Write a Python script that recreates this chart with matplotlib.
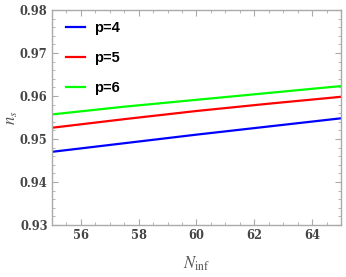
import matplotlib
matplotlib.use("Agg")
import matplotlib.pyplot as plt
from matplotlib.ticker import MultipleLocator, FuncFormatter

plt.rcParams["mathtext.fontset"] = "stix"
plt.rcParams["font.family"] = "DejaVu Serif"

# values
N_inf = [55, 57.5, 60, 62.5, 65]
ns_p4 = [0.9470, 0.9490, 0.9510, 0.9529, 0.9548]
ns_p5 = [0.9526, 0.9546, 0.9565, 0.9582, 0.9598]
ns_p6 = [0.9557, 0.9575, 0.9591, 0.9607, 0.9623]
labels = ["p=4", "p=5", "p=6"]
colors = ["#0000ff", "#ff0000", "#00ff00"]

fig = plt.figure(figsize=(3.46, 2.77), dpi=100)
ax = fig.add_axes([0.150, 0.188, 0.8355, 0.776])

for y, lab, c in zip([ns_p4, ns_p5, ns_p6], labels, colors):
    ax.plot(N_inf, y, color=c, lw=1.6, label=lab)

ax.set_xlim(55, 65)
ax.set_ylim(0.93, 0.98)
ax.set_xticks([56, 58, 60, 62, 64])
ax.xaxis.set_minor_locator(MultipleLocator(0.5))
ax.yaxis.set_major_locator(MultipleLocator(0.01))
ax.yaxis.set_minor_locator(MultipleLocator(0.002))
ax.yaxis.set_major_formatter(FuncFormatter(lambda v, p: f"{v:.2f}"))

gray = "#aaaaaa"
for s in ax.spines.values():
    s.set_color(gray)
    s.set_linewidth(1.0)
ax.tick_params(which="both", direction="in", top=True, right=True, color=gray,
               labelcolor="#444444", labelsize=8.3)
ax.tick_params(which="major", length=4, width=0.8, pad=3)
ax.tick_params(which="minor", length=2, width=0.6)
for t in ax.get_xticklabels() + ax.get_yticklabels():
    t.set_fontweight("semibold")

ax.set_xlabel(r"$N_{\rm inf}$", fontsize=12, color="#555555")
ax.set_ylabel(r"$n_s$", fontsize=12, color="#555555")
ax.xaxis.set_label_coords(0.5, -0.14)
ax.yaxis.set_label_coords(-0.11, 0.5)

leg = ax.legend(loc="upper left", bbox_to_anchor=(0.029, 0.975), borderaxespad=0,
                frameon=False, handlelength=1.3, labelspacing=1.08,
                handletextpad=0.6,
                prop={"family": "Liberation Sans", "weight": "bold", "size": 10.5})

plt.savefig("out.png", dpi=100)
